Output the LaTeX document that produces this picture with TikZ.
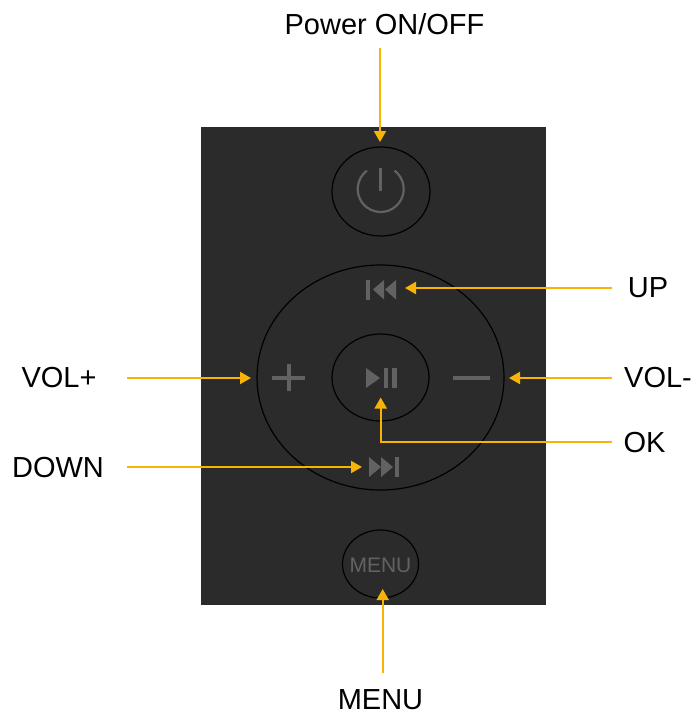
\documentclass[tikz,border=0pt]{standalone}
\usepackage{fontspec}
\setmainfont{Liberation Sans}
\usetikzlibrary{arrows.meta,shapes.geometric}
\definecolor{bodygray}{HTML}{2B2B2B}
\definecolor{icongray}{HTML}{626262}
\definecolor{pointercolor}{HTML}{F9B208}
\tikzset{
  caption/.style={font=\fontsize{29}{29}\selectfont,inner sep=0pt,text=black},
  button/.style={ellipse,draw=black,line width=1.2pt,inner sep=0pt},
  pointer/.style={draw=pointercolor,line width=2pt,-{Triangle[length=11pt,width=12pt]}},
  glyph/.style={fill=icongray,draw=none}
}
\begin{document}
\begin{tikzpicture}[x=1pt,y=-1pt]
  \useasboundingbox (0,0) rectangle (693,713);
  \fill[bodygray] (201,127) rectangle (546,605);
  \node[button,minimum width=98pt,minimum height=89pt] (btnpower) at (381,191.5) {};
  \node[button,minimum width=247pt,minimum height=225pt] (ring) at (380.5,377.5) {};
  \node[button,minimum width=97pt,minimum height=87pt] (btnplay) at (380.5,377.5) {};
  \node[button,minimum width=76pt,minimum height=68pt] (btnmenu) at (380.5,564) {};
  \node[text=icongray,inner sep=0pt,font=\fontsize{21}{21}\selectfont] (txtmenu) at (380.5,565) {MENU};

  \draw[icongray,line width=2.2pt] (380.7,189) ++(307:23) arc[start angle=307,end angle=593,radius=23];
  \draw[icongray,line width=3.5pt] (380.7,168) -- (380.7,191);
  \fill[glyph] (366,280) rectangle (370,300);
  \fill[glyph] (384,280) -- (373,289.5) -- (384,299.5) -- cycle;
  \fill[glyph] (396,280) -- (385,289.5) -- (396,299.5) -- cycle;
  \draw[icongray,line width=3.6pt] (272,378) -- (305,378);
  \draw[icongray,line width=3.6pt] (288.7,364) -- (288.7,391);
  \draw[icongray,line width=3.8pt] (453,378) -- (490,378);
  \fill[glyph] (366,368) -- (380,378) -- (366,388) -- cycle;
  \fill[glyph] (384,368) rectangle (388,388);
  \fill[glyph] (392,368) rectangle (397,388);
  \fill[glyph] (369,457) -- (381,467) -- (369,477) -- cycle;
  \fill[glyph] (381,457) -- (393,467) -- (381,477) -- cycle;
  \fill[glyph] (395,457) rectangle (399,477);

  \node[caption] (lblpower) at (384.5,24) {Power ON/OFF};
  \node[caption] (lblup) at (648,287.5) {UP};
  \node[caption] (lblvolminus) at (658,378) {VOL-};
  \node[caption] (lblok) at (644.5,443) {OK};
  \node[caption] (lblvolplus) at (59,377.5) {VOL+};
  \node[caption] (lbldown) at (58,468) {DOWN};
  \node[caption] (lblmenu) at (380.5,699.5) {MENU};

  \coordinate (tippower) at (380,142);
  \coordinate (tipup) at (405,288);
  \coordinate (tipvolminus) at (509,378);
  \coordinate (tipok) at (380.7,397.5);
  \coordinate (tipvolplus) at (251,378);
  \coordinate (tipdown) at (362,467);
  \coordinate (tipmenu) at (382.7,589);

  \draw[pointer] (tippower |- 0,48) -- (tippower);
  \draw[pointer] (612,288) -- (tipup);
  \draw[pointer] (612,378) -- (tipvolminus);
  \draw[pointer] (612,442) -| (tipok);
  \draw[pointer] (127,378) -- (tipvolplus);
  \draw[pointer] (127,467) -- (tipdown);
  \draw[pointer] (tipmenu |- 0,673) -- (tipmenu);
\end{tikzpicture}
\end{document}
